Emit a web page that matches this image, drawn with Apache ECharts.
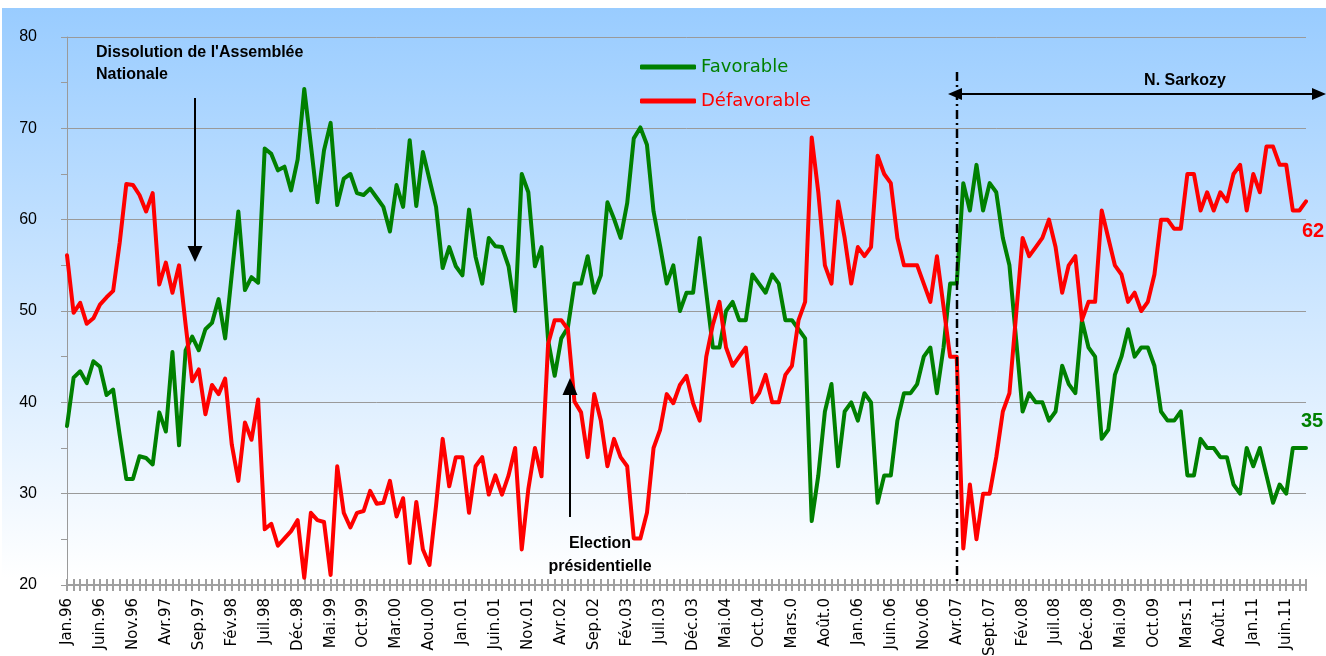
<!DOCTYPE html>
<html><head><meta charset="utf-8">
<script src="https://cdn.jsdelivr.net/npm/echarts@6/dist/echarts.min.js"></script>
<style>html,body{margin:0;padding:0;background:#fff}#c{width:1326px;height:656px}</style>
</head><body><div id="c"></div>
<script>
// Monthly categories Jan.96 .. Sep.11 (189 months)
const monthAbbr = ['Jan','Fév','Mars','Avr','Mai','Juin','Juil','Août','Sept','Oct','Nov','Déc'];
const categories = [];
for (let y = 1996; y <= 2011; y++) {
  for (let m = 0; m < 12; m++) {
    if (y === 2011 && m > 8) break;
    categories.push(monthAbbr[m] + '.' + String(y).slice(2));
  }
}
// tick labels shown every 5 months, as written on the reference
const tickLabels = ['Jan.96','Juin.96','Nov.96','Avr.97','Sep.97','Fév.98','Juil.98','Déc.98','Mai.99','Oct.99',
  'Mar.00','Aou.00','Jan.01','Juin.01','Nov.01','Avr.02','Sep.02','Fév.03','Juil.03','Déc.03',
  'Mai.04','Oct.04','Mars.0','Août.0','Jan.06','Juin.06','Nov.06','Avr.07','Sept.07','Fév.08',
  'Juil.08','Déc.08','Mai.09','Oct.09','Mars.1','Août.1','Jan.11','Juin.11'];

const favorable = [
  37.4,42.7,43.4,42.1,44.5,43.9,40.8,41.4,36.4,31.6, 31.6,34.1,33.9,33.2,38.9,36.8,45.5,35.3,45.7,47.2,
  45.7,48,48.7,51.3,47,54,60.9,52.3,53.7,53.1, 67.8,67.2,65.4,65.8,63.2,66.6,74.3,68.2,61.9,67.6,
  70.6,61.6,64.5,65,62.9,62.7,63.4,62.4,61.4,58.7, 63.8,61.4,68.7,61.5,67.4,64.4,61.4,54.7,57,54.9,
  53.9,61.1,55.9,53,58,57.1,57,54.9,50,65, 63,54.9,57,46.8,42.9,47,48.2,53,53,56,
  52,53.9,61.9,60.1,58,61.8,68.9,70.1,68.2,60.9, 57.1,53,55,50,52,52,58,52,46,46,
  50,51,49,49,54,53,52,54,53,49, 49,48,47,27,32,39,42,33,39,40,
  38,41,40,29,32,32,38,41,41,42, 45,46,41,46,53,53,64,61,66,61,
  64,63,58,55,47,39,41,40,40,38, 39,44,42,41,49,46,45,36,37,43,
  45,48,45,46,46,44,39,38,38,39, 32,32,36,35,35,34,34,31,30,35,
  33,35,32,29,31,30,35,35,35
];
const defavorable = [
  56.1,49.8,50.9,48.6,49.2,50.7,51.5,52.2,57.5,63.9, 63.8,62.7,60.9,62.9,52.9,55.3,52,55,48.5,42.3,
  43.6,38.7,41.9,40.9,42.6,35.4,31.4,37.8,35.9,40.3, 26.1,26.7,24.3,25.1,25.9,27.1,20.8,27.9,27.1,26.9,
  21.1,33,27.9,26.3,27.9,28.1,30.3,28.9,29,31.4, 27.5,29.5,22.4,29.1,23.9,22.2,28.7,36,30.8,34,
  34,27.9,33,34,29.9,32,29.9,32,35,23.9, 30.5,35,31.9,46.4,49,49,48,40.1,38.9,34,
  40.9,38,33,36,34,33,25.1,25.1,27.9,35, 37,40.9,39.9,41.9,42.9,39.9,38,45,48.5,51,
  46,44,45,46,40,41,43,40,40,43, 44,49,51,69,63,55,53,62,58,53,
  57,56,57,67,65,64,58,55,55,55, 53,51,56,50.5,45,45,24,31,25,30,
  30,34,39,41,49.5,58,56,57,58,60, 57,52,55,56,49,51,51,61,58,55,
  54,51,52,50,51,54,60,60,59,59, 65,65,61,63,61,63,62,65,66,61,
  65,63,68,68,66,66,61,61,62
];

const GREEN = '#008000', RED = '#FF0000', GRID = '#9a9a9a';
const chart = echarts.init(document.getElementById('c'), null, {renderer: 'canvas'});

const bold = 'bold 16px "Liberation Sans", Arial, sans-serif';
chart.setOption({
  animation: false,
  backgroundColor: '#ffffff',
  grid: {left: 67, right: 20, top: 37, bottom: 71, containLabel: false, outerBoundsMode: 'none'},
  legend: {
    orient: 'vertical', left: 635, top: 53, itemWidth: 56, itemHeight: 5, itemGap: 16,
    icon: 'roundRect',
    textStyle: {fontFamily: '"DejaVu Sans", Verdana, sans-serif', fontSize: 18},
    data: [
      {name: 'Favorable', textStyle: {color: GREEN}},
      {name: 'Défavorable', textStyle: {color: RED}}
    ]
  },
  xAxis: [{
    type: 'category', data: categories, boundaryGap: false,
    axisLine: {lineStyle: {color: '#a0a0a0', width: 2}},
    axisTick: {show: true, interval: 0, length: 6, lineStyle: {color: '#a0a0a0', width: 2}},
    axisLabel: {
      interval: 4, rotate: 90, margin: 13, color: '#000',
      fontFamily: '"DejaVu Sans", Verdana, sans-serif', fontSize: 15,
      formatter: (v, i) => tickLabels[i / 5] || ''
    },
    splitLine: {show: false}
  }, {
    type: 'category', data: categories, boundaryGap: false, position: 'bottom',
    axisLine: {show: false},
    axisTick: {show: true, inside: true, interval: 0, length: 6, lineStyle: {color: '#a0a0a0', width: 2}},
    axisLabel: {show: false}, splitLine: {show: false}
  }],
  yAxis: {
    type: 'value', min: 20, max: 80, interval: 10,
    axisLine: {show: true, lineStyle: {color: GRID, width: 1}},
    axisTick: {show: true, length: 6, lineStyle: {color: GRID}},
    minorTick: {show: true, splitNumber: 2, length: 6, lineStyle: {color: GRID}},
    axisLabel: {margin: 30, color: '#000', fontSize: 16, fontFamily: '"Liberation Sans", Arial, sans-serif'},
    splitLine: {show: true, lineStyle: {color: GRID, width: 1}}
  },
  series: [{
    name: 'Favorable', type: 'line', data: favorable, symbol: 'none',
    lineStyle: {color: GREEN, width: 4, cap: 'round', join: 'round'}, itemStyle: {color: GREEN},
    endLabel: {show: true, formatter: '{c}', color: GREEN, fontWeight: 'bold', fontSize: 20,
      fontFamily: '"Liberation Sans", Arial, sans-serif', offset: [-13, -27]},
    z: 3
  }, {
    name: 'Défavorable', type: 'line', data: defavorable, symbol: 'none',
    lineStyle: {color: RED, width: 4, cap: 'round', join: 'round'}, itemStyle: {color: RED},
    endLabel: {show: true, formatter: '{c}', color: RED, fontWeight: 'bold', fontSize: 20,
      fontFamily: '"Liberation Sans", Arial, sans-serif', offset: [-12, 30]},
    z: 4
  }],
  graphic: [
    {type: 'rect', z: -100, zlevel: 0, silent: true, shape: {x: 2, y: 8, width: 1324, height: 648},
      style: {fill: new echarts.graphic.LinearGradient(0, 0, 0, 1, [
        {offset: 0, color: '#99CCFF'}, {offset: 0.88, color: '#FFFFFF'}, {offset: 1, color: '#FFFFFF'}])}},
    {type: 'text', z: 100, left: 96, top: 42, style: {text: "Dissolution de l'Assemblée\nNationale", font: bold, fill: '#000', lineHeight: 22}},
    {type: 'line', z: 100, shape: {x1: 195, y1: 98, x2: 195, y2: 250}, style: {stroke: '#000', lineWidth: 2}},
    {type: 'polygon', z: 100, shape: {points: [[187.5, 246], [202.5, 246], [195, 262]]}, style: {fill: '#000'}},
    {type: 'text', z: 100, x: 600, y: 532, style: {text: 'Election\nprésidentielle', font: bold, fill: '#000', lineHeight: 23, align: 'center'}},
    {type: 'line', z: 100, shape: {x1: 570, y1: 517, x2: 570, y2: 392}, style: {stroke: '#000', lineWidth: 2}},
    {type: 'polygon', z: 100, shape: {points: [[562.5, 395], [577.5, 395], [570, 378]]}, style: {fill: '#000'}},
    {type: 'line', z: 100, shape: {x1: 957, y1: 72, x2: 957, y2: 585}, style: {stroke: '#000', lineWidth: 2.5, lineDash: [9, 4, 2, 4]}},
    {type: 'line', z: 100, shape: {x1: 952, y1: 94, x2: 1318, y2: 94}, style: {stroke: '#000', lineWidth: 2}},
    {type: 'polygon', z: 100, shape: {points: [[948, 94], [962, 88], [962, 100]]}, style: {fill: '#000'}},
    {type: 'polygon', z: 100, shape: {points: [[1326, 94], [1312, 88], [1312, 100]]}, style: {fill: '#000'}},
    {type: 'text', z: 100, x: 1185, y: 73, style: {text: 'N. Sarkozy', font: bold, fill: '#000', align: 'center'}}
  ]
});
</script>
</body></html>
